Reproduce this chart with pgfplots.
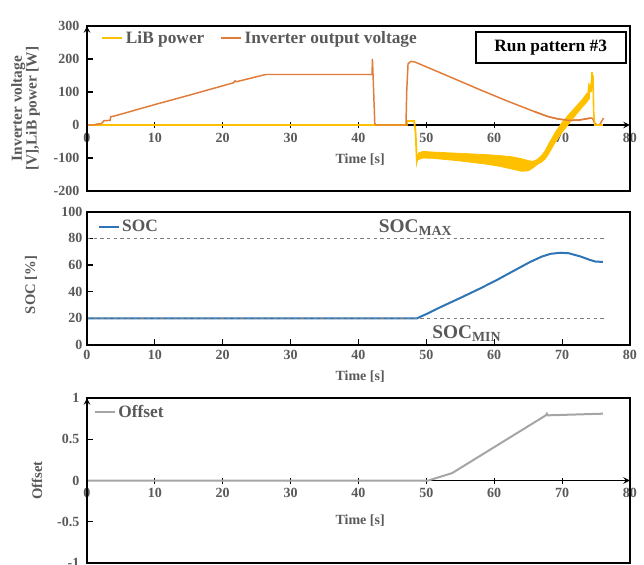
\documentclass[border=0pt]{standalone}
\usepackage{pgfplots}
\pgfplotsset{compat=1.18}
\usepackage{fontspec}
\setmainfont{Liberation Serif}
\definecolor{libc}{HTML}{FFC000}
\definecolor{invc}{HTML}{E07B39}
\definecolor{socc}{HTML}{2E75B6}
\definecolor{offc}{HTML}{A5A5A5}
\definecolor{txt}{HTML}{595959}
\definecolor{dashc}{HTML}{7F7F7F}
\pgfplotsset{
  common/.style={
    scale only axis, width=407.25pt,
    xmin=0, xmax=80, xtick={0,10,...,80},
    hide obscured x ticks=false, hide obscured y ticks=false,
    axis line style={-, line width=1.2pt, black},
    tick style={black, line width=0.8pt},
    major tick length=4.5pt,
    tick label style={font=\fontsize{10.5}{12}\selectfont\bfseries, text=txt},
    /pgf/number format/assume math mode=true,
    legend style={draw=none, fill=none, anchor=west, inner sep=0pt,
      font=\fontsize{13}{15}\selectfont\bfseries, text=txt,
      nodes={inner sep=2pt},
      /tikz/every even column/.append style={column sep=10pt}},
    legend image code/.code={\draw[##1] (0pt,0pt) -- (15pt,0pt);},
    legend cell align=left,
    after end axis/.code={\draw[line width=1.5pt] (rel axis cs:0,0) rectangle (rel axis cs:1,1);},
  }
}
\begin{document}
\begin{tikzpicture}
% ---------------- top panel ----------------
\begin{axis}[common,
  at={(65.25pt,-143.25pt)}, anchor=south west, height=123.75pt,
  axis x line=middle, axis y line=left,
  ymin=-200, ymax=300, ytick={-200,-100,...,300},
  tick align=center,
  ytick style={xshift=2.25pt},
  every axis x label/.style={at={(axis description cs:0.503,0.19)}, anchor=center,
     font=\fontsize{10.5}{12}\selectfont\bfseries, text=txt},
  every axis y label/.style={at={(axis description cs:-0.113,0.5)}, rotate=90, anchor=center,
     align=center, font=\fontsize{11.5}{11}\selectfont\bfseries, text=txt},
  xlabel={Time [s]},
  ylabel={Inverter voltage\\{[V]},LiB power [W]},
  legend style={at={(axis description cs:0.026,0.927)}},
  legend columns=2,
]
\addplot[libc, line width=1.4pt] coordinates {
 (0,0) (47.1,0) (47.2,12) (48.2,12) (48.4,-20) (48.6,-108) (48.8,-90)
};
\addlegendentry{LiB power}
\addplot[invc, line width=1.1pt] coordinates {
 (0,0) (1.0,0) (1.5,3) (2.1,4) (2.5,13) (3.4,14) (3.5,25) (4.0,27)
 (10,62) (15,90) (21.6,128) (21.8,134) (22.0,131) (26.3,153) (42.0,153)
 (42.05,200) (42.15,150) (42.4,5) (42.6,0) (47.0,0) (47.1,100) (47.3,185)
 (47.7,193) (48.3,191) (53,150) (58,106) (62,72) (66,40) (68,25) (69.5,18)
 (71,14) (72.5,15) (74.2,21) (74.5,20) (74.8,5) (75.2,0) (75.5,0) (75.8,10) (76.1,21)
};
\addlegendentry{Inverter output voltage}
\addplot[libc, fill=libc, line width=0.6pt, forget plot] coordinates {
 (48.8,-85) (49.5,-80) (51,-82) (53,-84) (55,-86) (57,-88) (59,-90) (61,-93)
 (62.5,-96) (64,-102) (65,-108) (65.7,-110) (66.3,-105) (67,-92) (67.5,-78)
 (68,-58) (68.5,-40) (69,-22) (70,8) (71,32) (72,55) (73,78) (73.6,95) (74.0,100)
 (74.0,80) (73.6,68) (73,55) (72,30) (71,4) (70,-22) (69,-52) (68.5,-70)
 (68,-88) (67.5,-103) (67,-112) (66.3,-120) (65.7,-130) (65,-139) (64,-140)
 (62.5,-133) (61,-126) (59,-119) (57,-114) (55,-109) (53,-105) (51,-101)
 (49.5,-100) (48.8,-105)
};
\addplot[libc, line width=1.2pt, forget plot] coordinates {
 (73.6,90) (73.8,85) (73.9,110) (74.0,95) (74.15,125) (74.25,100) (74.4,160)
 (74.5,110) (74.55,150) (74.65,40) (74.8,0) (76,0)
};
\addplot[invc, line width=1.1pt, forget plot] coordinates {
 (66,40) (68,25) (69.5,18) (71,14) (72.5,15) (74.2,21)
};
\node[draw=black, line width=1.5pt, minimum width=112.5pt, minimum height=23.25pt,
  font=\fontsize{13}{15}\selectfont\bfseries, text=black, fill=white]
  at (axis description cs:0.854,0.870) {Run pattern \#3};
\end{axis}
% ---------------- middle panel ----------------
\begin{axis}[common,
  at={(65.25pt,-258.75pt)}, anchor=south west, height=100pt,
  ymin=0, ymax=100, ytick={0,20,...,100},
  xtick pos=bottom, ytick pos=left, tick align=inside,
  every axis x label/.style={at={(axis description cs:0.503,-0.24)}, anchor=center,
     font=\fontsize{10.5}{12}\selectfont\bfseries, text=txt},
  every axis y label/.style={at={(axis description cs:-0.103,0.45)}, rotate=90, anchor=center,
     font=\fontsize{11}{12}\selectfont\bfseries, text=txt},
  xlabel={Time [s]},
  ylabel={SOC [\%]},
  legend style={at={(axis description cs:0.019,0.885)}},
]
\addplot[socc, line width=1.5pt] coordinates {
 (0,20) (48.6,20) (50,23.2) (52,28.2) (55.5,36.5) (58,42.6) (60.4,48.8)
 (63,56) (65.3,62.3) (67,66.3) (68.3,68.4) (69.8,69.2) (71,68.8) (72.7,66.4)
 (74,64) (74.9,62.6) (76,62.3)
};
\addlegendentry{SOC}
\addplot[dashc, line width=0.8pt, dash pattern=on 2.6pt off 2.4pt, forget plot] coordinates {(0,80) (76.6,80)};
\addplot[dashc, line width=0.8pt, dash pattern=on 2.6pt off 2.4pt, forget plot] coordinates {(0,20) (76.6,20)};
\node[anchor=base west, inner sep=0pt, text=txt, font=\fontsize{14.5}{15}\selectfont\bfseries]
  at (axis cs:42.95,84.4) {SOC\raisebox{-2.6pt}{\fontsize{10.4}{11}\selectfont MAX}};
\node[anchor=base west, inner sep=0pt, text=txt, font=\fontsize{14.5}{15}\selectfont\bfseries]
  at (axis cs:50.85,5) {SOC\raisebox{-2.6pt}{\fontsize{10.4}{11}\selectfont MIN}};
\end{axis}
% ---------------- bottom panel ----------------
\begin{axis}[common,
  at={(65.25pt,-422.25pt)}, anchor=south west, height=123.75pt,
  axis x line=middle, axis y line=left,
  ymin=-1, ymax=1, ytick={-1,-0.5,0,0.5,1},
  tick align=center,
  ytick style={xshift=2.25pt},
  every axis x label/.style={at={(axis description cs:0.503,0.26)}, anchor=center,
     font=\fontsize{10.5}{12}\selectfont\bfseries, text=txt},
  every axis y label/.style={at={(axis description cs:-0.092,0.5)}, rotate=90, anchor=center,
     font=\fontsize{11}{12}\selectfont\bfseries, text=txt},
  xlabel={Time [s]},
  ylabel={Offset},
  legend style={at={(axis description cs:0.012,0.915)}},
]
\addplot[offc, line width=1.5pt] coordinates {
 (0,0) (50.3,0) (53.8,0.09) (67.6,0.79) (67.75,0.81) (67.9,0.79) (76,0.81)
};
\addlegendentry{Offset}
\end{axis}
\pgfresetboundingbox
\useasboundingbox (0,0) rectangle (483pt,-423.75pt);
\end{tikzpicture}
\end{document}
